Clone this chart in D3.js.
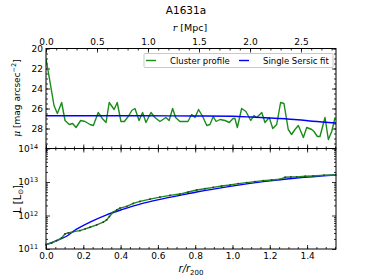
<!DOCTYPE html>
<html>
<head>
<meta charset="utf-8">
<script src="https://cdn.jsdelivr.net/npm/d3@7"></script>
<style>
  body { margin: 0; background: #fff; }
  text { font-family: "DejaVu Sans", sans-serif; }
</style>
</head>
<body>
<div id="visSpace"></div>
<script>
//Upper panel: surface brightness profile (r/r200, mag arcsec^-2)
var muR = [0.0, 0.043, 0.061, 0.084, 0.102, 0.125, 0.143, 0.161, 0.186, 0.209, 0.236, 0.254,
           0.280, 0.302, 0.322, 0.339, 0.365, 0.382, 0.402, 0.420, 0.441, 0.460, 0.477, 0.499,
           0.518, 0.536, 0.563, 0.584, 0.611, 0.643, 0.660, 0.679, 0.695, 0.718, 0.761, 0.781,
           0.799, 0.818, 0.840, 0.862, 0.879, 0.897, 0.912, 0.933, 0.960, 0.983, 1.003, 1.013,
           1.026, 1.049, 1.072, 1.098, 1.115, 1.130, 1.157, 1.174, 1.197, 1.216, 1.237, 1.258,
           1.276, 1.299, 1.317, 1.335, 1.353, 1.380, 1.398, 1.425, 1.437, 1.455, 1.469, 1.496,
           1.514, 1.532, 1.550];
var muProfile = [21.0, 25.7, 26.5, 25.4, 27.2, 27.6, 27.5, 27.9, 27.2, 27.3, 27.6, 27.7,
                 26.4, 27.0, 27.4, 25.4, 26.1, 25.4, 27.3, 27.3, 26.8, 26.2, 26.0, 27.2,
                 26.4, 27.4, 26.4, 26.9, 27.3, 26.9, 27.2, 26.0, 26.9, 27.3, 27.3, 26.6,
                 26.9, 26.1, 26.8, 27.7, 27.6, 26.8, 27.3, 27.1, 27.2, 27.4, 27.0, 27.0,
                 27.9, 26.0, 26.3, 27.2, 26.7, 26.9, 26.4, 27.4, 26.9, 28.0, 27.6, 25.4,
                 25.5, 28.1, 28.6, 28.1, 27.7, 28.9, 27.9, 28.1, 28.3, 28.8, 28.8, 26.9,
                 29.1, 28.3, 26.9];
var muFitR = [0.0, 0.5, 0.8, 1.0, 1.1, 1.25, 1.35, 1.43, 1.555];
var muFit = [26.72, 26.73, 26.75, 26.78, 26.85, 27.0, 27.13, 27.27, 27.45];

//Lower panel: cumulative luminosity (log10 L/Lsun)
var lumR = [0.0, 0.03, 0.057, 0.084, 0.102, 0.12, 0.147, 0.182, 0.21, 0.236, 0.272, 0.307,
            0.325, 0.34, 0.361, 0.38, 0.397, 0.433, 0.468, 0.504, 0.558, 0.611, 0.665, 0.718,
            0.763, 0.808, 0.852, 0.897, 0.942, 0.987, 1.031, 1.076, 1.12, 1.165, 1.21, 1.255,
            1.282, 1.313, 1.344, 1.39, 1.433, 1.49, 1.553];
var lumProfile = [11.13, 11.18, 11.25, 11.33, 11.45, 11.48, 11.52, 11.55, 11.60, 11.65, 11.72, 11.80,
                  11.87, 11.97, 12.10, 12.17, 12.22, 12.27, 12.36, 12.42, 12.49, 12.55, 12.60, 12.64,
                  12.70, 12.76, 12.80, 12.84, 12.88, 12.91, 12.95, 12.98, 13.01, 13.04, 13.06, 13.08,
                  13.14, 13.15, 13.15, 13.17, 13.18, 13.20, 13.21];
var lumFitR = [0.0, 0.057, 0.11, 0.147, 0.236, 0.325, 0.415, 0.504, 0.611, 0.718, 0.808, 0.987, 1.165, 1.344, 1.553];
var lumFit = [11.13, 11.25, 11.38, 11.53, 11.80, 12.02, 12.19, 12.34, 12.48, 12.60, 12.70, 12.87, 13.01, 13.12, 13.21];

var xTicks = [0.0, 0.2, 0.4, 0.6, 0.8, 1.0, 1.2, 1.4];
var mpcTicks = [0.0, 0.5, 1.0, 1.5, 2.0, 2.5];
var muTicks = [20, 22, 24, 26, 28];
var lumTicks = [1e11, 1e12, 1e13, 1e14];

//Layout
var width = 374, height = 280;
var plot = {left: 46, right: 336, top: 48.5, mid: 148.5, bottom: 249};

var svg = d3.select("#visSpace").append("svg")
            .attr("width", width).attr("height", height);

var x = d3.scaleLinear().domain([0, 1.555]).range([plot.left, plot.right]);
var xMpc = d3.scaleLinear().domain([0, 2.843]).range([plot.left, plot.right]);
var yMu = d3.scaleLinear().domain([20, 30]).range([plot.top, plot.mid]);
var yLum = d3.scaleLog().domain([1e11, 1e14]).range([plot.bottom, plot.mid]);

//helper: draw an axis with inward ticks
function ticks(g, axis) {
  g.call(axis);
  g.select(".domain").remove();
  g.selectAll(".tick line").attr("stroke", "#000").attr("stroke-width", 0.8);
  g.selectAll(".tick text").attr("font-size", "9px").attr("fill", "#000")
   .attr("font-family", "DejaVu Sans, sans-serif");
}

var minorX = d3.range(0, 1.56, 0.05);
var minorMpc = d3.range(0, 2.85, 0.1);
var minorMu = d3.range(20, 30.01, 0.5);
var minorLum = [];
[1e11, 1e12, 1e13].forEach(function(d){
  for (var k = 2; k < 10; k++) minorLum.push(d * k);
});

// ---- upper panel ----
var up = svg.append("g");
//top Mpc axis
ticks(up.append("g").attr("transform", "translate(0," + plot.top + ")"),
      d3.axisTop(xMpc).tickValues(minorMpc).tickSize(-2).tickFormat(""));
ticks(up.append("g").attr("transform", "translate(0," + plot.top + ")"),
      d3.axisTop(xMpc).tickValues(mpcTicks).tickSize(-4).tickPadding(4).tickFormat(d3.format(".1f")));
//bottom of upper panel
ticks(up.append("g").attr("transform", "translate(0," + plot.mid + ")"),
      d3.axisBottom(x).tickValues(minorX).tickSize(-2).tickFormat(""));
ticks(up.append("g").attr("transform", "translate(0," + plot.mid + ")"),
      d3.axisBottom(x).tickValues(xTicks).tickSize(-4).tickFormat(""));
//left / right
ticks(up.append("g").attr("transform", "translate(" + plot.left + ",0)"),
      d3.axisLeft(yMu).tickValues(minorMu).tickSize(-2).tickFormat(""));
ticks(up.append("g").attr("transform", "translate(" + plot.left + ",0)"),
      d3.axisLeft(yMu).tickValues(muTicks).tickSize(-4).tickPadding(3).tickFormat(d3.format("d")));
ticks(up.append("g").attr("transform", "translate(" + plot.right + ",0)"),
      d3.axisRight(yMu).tickValues(minorMu).tickSize(-2).tickFormat(""));
ticks(up.append("g").attr("transform", "translate(" + plot.right + ",0)"),
      d3.axisRight(yMu).tickValues(muTicks).tickSize(-4).tickFormat(""));

var clipUp = svg.append("clipPath").attr("id", "clipUp").append("rect")
                .attr("x", plot.left).attr("y", plot.top)
                .attr("width", plot.right - plot.left).attr("height", plot.mid - plot.top);

var muLine = d3.line().x(function(d){return x(d[0]);}).y(function(d){return yMu(d[1]);});
up.append("path")
  .attr("clip-path", "url(#clipUp)")
  .attr("d", muLine(muR.map(function(r, i){return [r, muProfile[i]];})))
  .attr("fill", "none").attr("stroke", "#1a8c1a").attr("stroke-width", 1.4)
  .attr("stroke-linejoin", "round");
up.append("path")
  .attr("clip-path", "url(#clipUp)")
  .attr("d", muLine.curve(d3.curveMonotoneX)(muFitR.map(function(r, i){return [r, muFit[i]];})))
  .attr("fill", "none").attr("stroke", "#0000ff").attr("stroke-width", 1.4);

up.append("rect")
  .attr("x", plot.left).attr("y", plot.top)
  .attr("width", plot.right - plot.left).attr("height", plot.mid - plot.top)
  .attr("fill", "none").attr("stroke", "#000").attr("stroke-width", 1);

//legend
var leg = up.append("g");
leg.append("rect").attr("x", 144).attr("y", 53.5).attr("width", 189).attr("height", 14)
   .attr("fill", "#fff").attr("stroke", "#bbb").attr("stroke-width", 0.8).attr("rx", 1);
var legItems = [{label: "Cluster profile", color: "#1a8c1a", x: 146},
                {label: "Single Sersic fit", color: "#0000ff", x: 239}];
legItems.forEach(function(d){
  leg.append("line").attr("x1", d.x).attr("x2", d.x + 10).attr("y1", 60.5).attr("y2", 60.5)
     .attr("stroke", d.color).attr("stroke-width", 1.4);
  leg.append("text").attr("x", d.x + 24).attr("y", 63.5).attr("font-size", "8.5px")
     .text(d.label);
});

// ---- lower panel ----
var lo = svg.append("g");
ticks(lo.append("g").attr("transform", "translate(0," + plot.mid + ")"),
      d3.axisTop(x).tickValues(minorX).tickSize(-2).tickFormat(""));
ticks(lo.append("g").attr("transform", "translate(0," + plot.mid + ")"),
      d3.axisTop(x).tickValues(xTicks).tickSize(-4).tickFormat(""));
ticks(lo.append("g").attr("transform", "translate(0," + plot.bottom + ")"),
      d3.axisBottom(x).tickValues(minorX).tickSize(-2).tickFormat(""));
ticks(lo.append("g").attr("transform", "translate(0," + plot.bottom + ")"),
      d3.axisBottom(x).tickValues(xTicks).tickSize(-4).tickPadding(4).tickFormat(d3.format(".1f")));
ticks(lo.append("g").attr("transform", "translate(" + plot.left + ",0)"),
      d3.axisLeft(yLum).tickValues(minorLum).tickSize(-2).tickFormat(""));
var lumAxis = lo.append("g").attr("transform", "translate(" + plot.left + ",0)");
ticks(lumAxis, d3.axisLeft(yLum).tickValues(lumTicks).tickSize(-4).tickPadding(3)
                 .tickFormat(function(d){return "10";}));
lumAxis.selectAll(".tick text").attr("font-size", "9px").each(function(d){
  d3.select(this).text("10").attr("dx", "-0.55em")
    .append("tspan").attr("dy", "-0.45em").attr("font-size", "6.5px")
    .text(Math.round(Math.log10(d)));
});
ticks(lo.append("g").attr("transform", "translate(" + plot.right + ",0)"),
      d3.axisRight(yLum).tickValues(minorLum).tickSize(-2).tickFormat(""));
ticks(lo.append("g").attr("transform", "translate(" + plot.right + ",0)"),
      d3.axisRight(yLum).tickValues(lumTicks).tickSize(-4).tickFormat(""));

var lumLine = d3.line().x(function(d){return x(d[0]);})
                .y(function(d){return yLum(Math.pow(10, d[1]));});
lo.append("path")
  .attr("d", lumLine.curve(d3.curveMonotoneX)(lumFitR.map(function(r, i){return [r, lumFit[i]];})))
  .attr("fill", "none").attr("stroke", "#0000ff").attr("stroke-width", 1.4);
lo.append("path")
  .attr("d", d3.line().x(function(d){return x(d[0]);})
               .y(function(d){return yLum(Math.pow(10, d[1]));})(lumR.map(function(r, i){return [r, lumProfile[i]];})))
  .attr("fill", "none").attr("stroke", "#1a8c1a").attr("stroke-width", 1.4);
lo.selectAll(".pt").data(lumR).enter().append("rect")
  .attr("x", function(d){return x(d) - 0.8;})
  .attr("y", function(d, i){return yLum(Math.pow(10, lumProfile[i])) - 0.8;})
  .attr("width", 1.6).attr("height", 1.6).attr("fill", "#333");

lo.append("rect")
  .attr("x", plot.left).attr("y", plot.mid)
  .attr("width", plot.right - plot.left).attr("height", plot.bottom - plot.mid)
  .attr("fill", "none").attr("stroke", "#000").attr("stroke-width", 1);

// ---- titles / labels ----
svg.append("text").attr("x", 186).attr("y", 14).attr("text-anchor", "middle")
   .attr("font-size", "10.5px").text("A1631a");
var topLab = svg.append("text").attr("x", 190).attr("y", 31).attr("text-anchor", "middle")
   .attr("font-size", "9.5px");
topLab.append("tspan").attr("font-family", "DejaVu Serif, serif").attr("font-style", "italic").text("r");
topLab.append("tspan").text(" [Mpc]");

var botLab = svg.append("text").attr("x", 191).attr("y", 272).attr("text-anchor", "middle")
   .attr("font-size", "10px").attr("font-family", "DejaVu Serif, serif").attr("font-style", "italic");
botLab.append("tspan").text("r/r");
botLab.append("tspan").attr("dy", "2.5").attr("font-size", "7px").attr("font-style", "normal").text("200");

var muLab = svg.append("text")
   .attr("transform", "translate(20,98) rotate(-90)").attr("text-anchor", "middle")
   .attr("font-size", "9px");
muLab.append("tspan").attr("font-family", "DejaVu Serif, serif").attr("font-style", "italic").text("μ");
muLab.append("tspan").text(" [mag arcsec");
muLab.append("tspan").attr("dy", "-4").attr("font-size", "6.5px").text("−2");
muLab.append("tspan").attr("dy", "4").text("]");

var lLab = svg.append("text")
   .attr("transform", "translate(21,199) rotate(-90)").attr("text-anchor", "middle")
   .attr("font-size", "10px");
lLab.append("tspan").text("L [L");
lLab.append("tspan").attr("dy", "2").attr("font-size", "7px").text("⊙");
lLab.append("tspan").attr("dy", "-2").text("]");
</script>
</body>
</html>
